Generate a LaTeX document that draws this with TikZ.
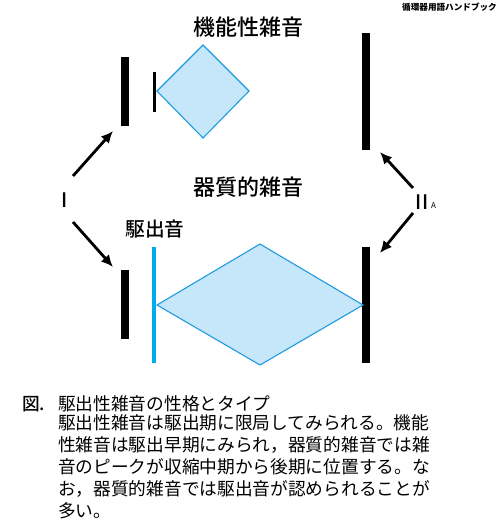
\documentclass[tikz,border=0pt]{standalone}
\usepackage{fontspec}
\setmainfont{Noto Sans CJK JP}
\newfontfamily\jpmed{Noto Sans CJK JP}[UprightFont=* Medium]
\usetikzlibrary{arrows.meta}
\definecolor{ejblue}{RGB}{0,172,236}
\definecolor{murline}{RGB}{30,155,225}
\definecolor{murfill}{RGB}{198,230,249}

\begin{document}
\begin{tikzpicture}[x=1pt,y=-1pt,>={Latex[length=12pt,width=11pt]},
  bar/.style={fill=black,inner sep=0pt,minimum width=8pt},
  murmur/.style={draw=murline,fill=murfill,line width=1.1pt},
  ptr/.style={->,line width=2.8pt},
  lbl/.style={font=\fontsize{22}{24}\selectfont\jpmed,inner sep=0pt},
  capt/.style={anchor=base west,inner sep=0pt,font=\fontsize{17.7}{22}\selectfont}]
  \useasboundingbox (0,0) rectangle (500,520);
  \node[anchor=north east,inner sep=0pt,font=\fontsize{8.6}{9}\selectfont\bfseries] (hb) at (497,3) {循環器用語ハンドブック};

  % upper row: functional murmur
  \node[lbl] (fn) at (248,27) {機能性雑音};
  \node[bar,minimum height=69pt] (s1a) at (125,91.5) {};
  \node[bar,minimum width=3pt,minimum height=40pt] (ea) at (154.5,92) {};
  \node[bar,minimum height=117pt] (s2a) at (366,91.5) {};
  \draw[murmur] (157,91) -- (203,45) -- (249,91) -- (203,138) -- cycle;

  % lower row: organic murmur
  \node[lbl] (org) at (248,187) {器質的雑音};
  \node[lbl,font=\fontsize{19.7}{22}\selectfont\jpmed] (ej) at (155,229) {駆出音};
  \node[bar,minimum height=69pt] (s1b) at (125,304.5) {};
  \node[bar,fill=ejblue,minimum width=4pt,minimum height=116pt] (eb) at (154,305) {};
  \node[bar,minimum height=116pt] (s2b) at (366,305) {};
  \draw[murmur] (157,305) -- (260,244) -- (363,305) -- (260,365) -- cycle;

  % heart sounds
  \node[lbl,font=\fontsize{20}{22}\selectfont\jpmed] (one) at (65,200) {I};
  \node[lbl,font=\fontsize{20}{22}\selectfont\jpmed] (two) at (422,202) {II};
  \node[anchor=west,inner sep=0pt,font=\fontsize{8}{9}\selectfont] (aa) at (431,206) {A};
  \coordinate (p1) at (73,176);
  \coordinate (q1) at (113,131);
  \coordinate (p2) at (73,222);
  \coordinate (q2) at (113,267);
  \coordinate (p3) at (413,188);
  \coordinate (q3) at (380,152);
  \coordinate (p4) at (413,213);
  \coordinate (q4) at (380,253);
  \foreach \a/\b in {p1/q1,p2/q2,p3/q3,p4/q4}
    \draw[ptr] (\a) -- (\b);

  % caption
  \node[capt,font=\fontsize{17.7}{22}\selectfont\jpmed] (fg) at (22,410) {図.};
  \node[capt] (ttl) at (58,410) {駆出性雑音の性格とタイプ};
  \node[capt,align=left] (body) at (58,517) {駆出性雑音は駆出期に限局してみられる。機能\\
    性雑音は駆出早期にみられ，器質的雑音では雑\\
    音のピークが収縮中期から後期に位置する。な\\
    お，器質的雑音では駆出音が認められることが\\
    多い。};
\end{tikzpicture}
\end{document}
